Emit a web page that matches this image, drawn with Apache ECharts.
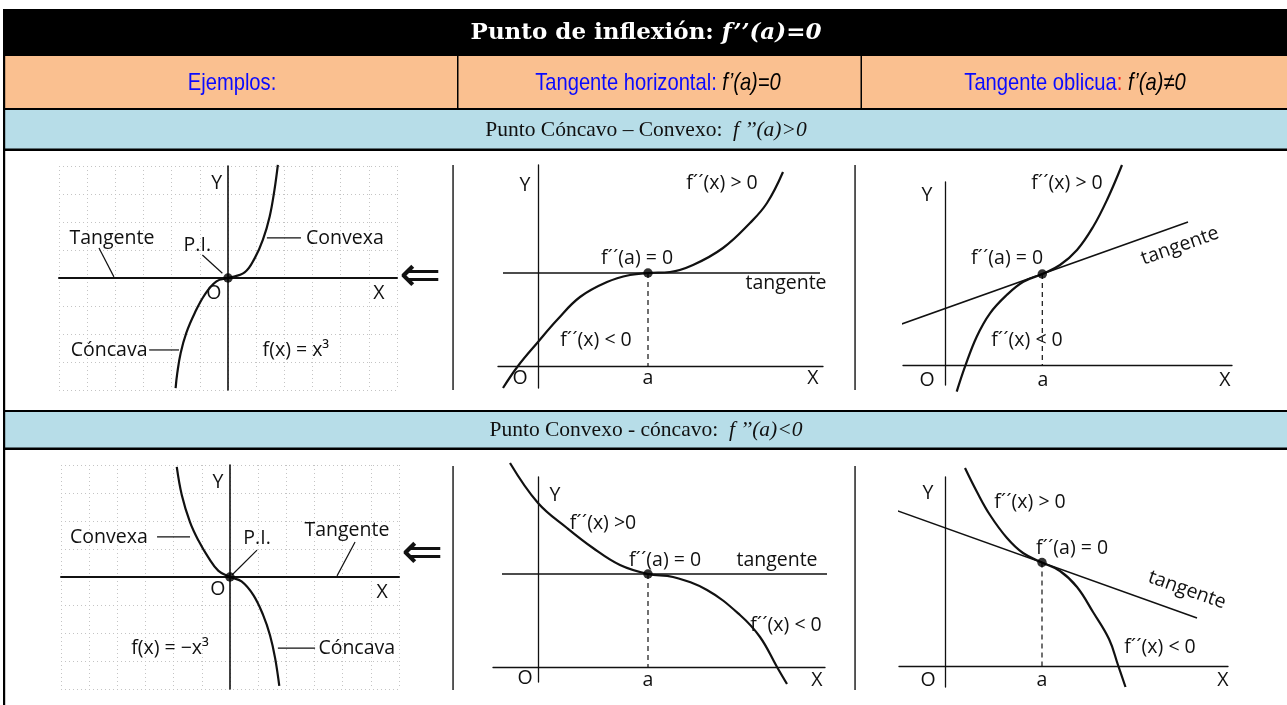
<!DOCTYPE html>
<html><head><meta charset="utf-8">
<script src="https://cdn.jsdelivr.net/npm/echarts@6/dist/echarts.min.js"></script>
<style>html,body{margin:0;padding:0;background:#fff}#c{width:1287px;height:705px}</style>
</head><body><div id="c"></div>
<script>
// ---------------- data ----------------
const titleMain = 'Punto de inflexión: ';
const titleFormula = 'f’’(a)=0';
const headEjemplos = 'Ejemplos:';
const headHorizontal = 'Tangente horizontal: ';
const headHorizontalF = 'f’(a)=0';
const headOblicua = 'Tangente oblicua';
const headOblicuaF = 'f’(a)≠0';
const row1Text = 'Punto Cóncavo – Convexo:  ';
const row1Formula = 'f ’’(a)>0';
const row2Text = 'Punto Convexo - cóncavo:  ';
const row2Formula = 'f ’’(a)<0';

// Panel A : f(x) = x^3  (grid-square units)
const curveA = [[-1.86,-3.93],[-1.8,-3.39],[-1.68,-2.68],[-1.48,-1.96],[-1.18,-1.25],[-0.83,-0.6],[-0.41,-0.12],[0,0],[0.59,0.2],[0.95,0.71],[1.24,1.37],[1.48,2.2],[1.65,3.15],[1.77,4.04]];
const pointA = [0,0];
const leadersA = [[[1.38,1.43],[2.59,1.43]],[[-4.58,1.07],[-4.05,0.04]],[[-0.91,0.82],[-0.2,0.17]],[[-2.8,-2.57],[-1.74,-2.57]]];
const labelsA = [['Y',-0.4,3.38],['O',-0.5,-0.55],['X',5.36,-0.54],['Tangente',-4.12,1.43],['P.I.',-1.09,1.18],['Convexa',4.15,1.43],['Cóncava',-4.22,-2.57],['f(x) = x³',2.41,-2.57]];

// Panel B : tangente horizontal, cóncavo-convexo
const curveB = [[-3.5,-2.2],[-2.0,0],[0,2.4],[1.9,4.6],[4.2,6.9],[6.9,8.4],[9.2,9.1],[11,9.3],[13.2,9.4],[15.5,10.1],[18.5,11.8],[21.2,14.3],[22.9,16.3],[24.5,19.4]];
const tangentB = [[-3.5,9.3],[28.2,9.3]];
const pointB = [11,9.3];
const labelsB = [['Y',-1.3,18.1],['O',-1.8,-1.2],['a',11,-1.2],['X',27.5,-1.2],['f´´(x) > 0',18.4,18.3],['f´´(a) = 0',9.9,10.8],['tangente',24.8,8.3],['f´´(x) < 0',5.8,2.6]];

// Panel C : tangente oblicua, cóncavo-convexo
const curveC = [[1.17,-2.67],[2.0,-0.17],[3.17,2.83],[4.5,5.17],[6.17,7.0],[7.83,8.33],[9.73,9.1],[11.5,10.0],[13.2,11.5],[14.8,13.8],[16.2,16.5],[17.7,20]];
const tangentC = [[-4.9,3.9],[24.3,14.3]];
const pointC = [9.73,9.1];
const labelsC = [['Y',-1.8,17],['O',-1.8,-1.5],['a',9.8,-1.5],['X',28,-1.5],['f´´(x) > 0',12.2,18.2],['f´´(a) = 0',6.2,10.7],['tangente',23.5,11.9,0.34],['f´´(x) < 0',8.2,2.5]];

// Panel D : f(x) = -x^3
const curveD = [[-1.89,3.93],[-1.71,2.92],[-1.42,1.96],[-1.12,1.3],[-0.77,0.7],[-0.41,0.22],[0,0],[0.41,-0.16],[0.83,-0.65],[1.18,-1.37],[1.42,-2.08],[1.6,-2.89],[1.75,-3.89]];
const pointD = [0,0];
const leadersD = [[[-2.59,1.43],[-1.42,1.43]],[[0.96,0.96],[0.07,0.07]],[[4.44,1.25],[3.8,0.04]],[[1.7,-2.54],[3.02,-2.54]]];
const labelsD = [['Y',-0.43,3.39],['O',-0.43,-0.46],['X',5.4,-0.54],['Convexa',-4.3,1.43],['P.I.',0.96,1.39],['Tangente',4.15,1.68],['f(x) = −x³',-2.13,-2.54],['Cóncava',4.5,-2.54]];

// Panel E : tangente horizontal, convexo-cóncavo
const curveE = [[-2.8,20.4],[0,16.4],[2.9,13.9],[5.5,11.9],[8.2,10.2],[11,9.3],[13.5,9.0],[16.9,7.7],[20.2,5.2],[22.2,3.0],[23.9,0],[24.9,-1.7]];
const tangentE = [[-3.6,9.3],[28.9,9.3]];
const pointE = [11,9.3];
const labelsE = [['Y',1.7,17.2],['O',-1.3,-1.1],['a',11,-1.3],['X',27.9,-1.3],['f´´(x) >0',6.5,14.4],['f´´(a) = 0',12.7,10.7],['tangente',23.9,10.7],['f´´(x) < 0',24.8,4.2]];

// Panel F : tangente oblicua, convexo-cóncavo
const curveF = [[2.0,19.8],[3.2,17.4],[4.5,15.1],[6.2,12.8],[7.8,11.3],[9.7,10.35],[11.5,9.5],[13.2,7.9],[14.8,5.4],[16.4,2.7],[17.3,0.1],[18.05,-2.1]];
const tangentF = [[-5,15.6],[25.2,4.8]];
const pointF = [9.7,10.35];
const labelsF = [['Y',-1.7,17.3],['O',-1.7,-1.4],['a',9.7,-1.4],['X',27.8,-1.4],['f´´(x) > 0',8.5,16.4],['f´´(a) = 0',12.7,11.8],['tangente',24.2,7.6,-0.34],['f´´(x) < 0',21.5,1.9]];

// ---------------- layout ----------------
const panels = [
  {grid:{left:59,top:166,width:338,height:224}, x:[-6,6], y:[-4,4], squares:true, curve:curveA, point:pointA, leaders:leadersA, labels:labelsA, arrow:[6.82,0]},
  {grid:{left:498,top:165,width:325,height:223}, x:[-4,28.5], y:[-2.2,20.1], curve:curveB, tangent:tangentB, point:pointB, labels:labelsB},
  {grid:{left:903,top:182,width:329,height:203}, x:[-4.2,28.7], y:[-2.0,18.3], curve:curveC, tangent:tangentC, point:pointC, labels:labelsC},
  {grid:{left:61,top:465,width:338,height:224}, x:[-6,6], y:[-4,4], squares:true, curve:curveD, point:pointD, leaders:leadersD, labels:labelsD, arrow:[6.82,0.79]},
  {grid:{left:493,top:477,width:332,height:205}, x:[-4.5,28.7], y:[-1.5,19.0], curve:curveE, tangent:tangentE, point:pointE, labels:labelsE},
  {grid:{left:899,top:477,width:329,height:210}, x:[-4.6,28.3], y:[-2.1,18.9], curve:curveF, tangent:tangentF, point:pointF, labels:labelsF}
];

const grids = [], xAxes = [], yAxes = [], series = [];
panels.forEach((p, i) => {
  grids.push(Object.assign({containLabel:false}, p.grid));
  const sq = !!p.squares;
  const split = {show:sq, lineStyle:{color:'#c4c4c4', type:[1,3], width:1}};
  xAxes.push({type:'value', gridIndex:i, min:p.x[0], max:p.x[1], interval: sq ? 1 : undefined,
    axisLine:{show:true, onZero:true, lineStyle:{color:'#111', width: sq ? 2 : 1.3}},
    axisTick:{show:false}, axisLabel:{show:false}, splitLine:split});
  yAxes.push({type:'value', gridIndex:i, min:p.y[0], max:p.y[1], interval: sq ? 1 : undefined,
    axisLine:{show:true, onZero:true, lineStyle:{color:'#111', width: sq ? 1.6 : 1.3}},
    axisTick:{show:false}, axisLabel:{show:false}, splitLine:split});
  series.push({type:'line', xAxisIndex:i, yAxisIndex:i, data:p.curve, smooth:0.4,
    symbol:'none', clip:false, silent:true, z:4, lineStyle:{color:'#111', width:2.2}});
  if (p.tangent) {
    series.push({type:'line', xAxisIndex:i, yAxisIndex:i, data:p.tangent, symbol:'none', clip:false, silent:true, z:3,
      lineStyle:{color:'#111', width:1.5}});
    series.push({type:'line', xAxisIndex:i, yAxisIndex:i, data:[p.point,[p.point[0],0]], symbol:'none', clip:false, silent:true, z:3,
      lineStyle:{color:'#111', width:1.2, type:[5,4]}});
  }
  (p.leaders || []).forEach(seg => {
    series.push({type:'line', xAxisIndex:i, yAxisIndex:i, data:seg, symbol:'none', clip:false, silent:true, z:3,
      lineStyle:{color:'#111', width:1.2}});
  });
  series.push({type:'scatter', xAxisIndex:i, yAxisIndex:i, data:[p.point], symbolSize:9.5, silent:true, z:5,
    itemStyle:{color:'#000'}});
});

const chart = echarts.init(document.getElementById('c'), null, {renderer:'canvas'});
chart.setOption({animation:false, backgroundColor:'#fff', grid:grids, xAxis:xAxes, yAxis:yAxes, series:series});

// ---------------- table frame & texts ----------------
const W = 1287;
const g = [];
function rect(x, y, w, h, fill) { g.push({type:'rect', silent:true, z:1, shape:{x:x, y:y, width:w, height:h}, style:{fill:fill}}); }
rect(4, 9, W, 47, '#000000');
rect(4, 56, W, 53, '#FAC090');
rect(4, 109, W, 41, '#B7DDE8');
rect(4, 411, W, 38, '#B7DDE8');
rect(4, 108, W, 2, '#000');
rect(4, 148.5, W, 2.5, '#000');
rect(4, 410, W, 2, '#000');
rect(4, 447.5, W, 2.5, '#000');
rect(3, 9, 2.2, 705, '#000');
rect(457, 56, 1.5, 53, '#000');
rect(860.5, 56, 1.5, 53, '#000');
// borders of the scanned pictures
[[453,165,390],[855,165,390],[453,466,690],[855,466,690]].forEach(v => rect(v[0]-0.7, v[1], 1.5, v[2]-v[1], '#222'));

function text(x, y, style, extra) {
  g.push(Object.assign({type:'text', silent:true, z:10, x:x, y:y,
    style:Object.assign({align:'center', verticalAlign:'middle', textAlign:'center', textVerticalAlign:'middle'}, style)}, extra || {}));
}
text(646, 33, {text:'{a|' + titleMain + '}{b|' + titleFormula + '}', rich:{
  a:{fill:'#fff', fontFamily:'DejaVu Serif', fontWeight:'bold', fontSize:23},
  b:{fill:'#fff', fontFamily:'DejaVu Serif', fontWeight:'bold', fontStyle:'italic', fontSize:23}}});
const narrow = {scaleX:0.84};
const headRich = {
  b:{fill:'#0a0aff', fontFamily:'Liberation Sans', fontSize:24},
  r:{fill:'#ff1a1a', fontFamily:'Liberation Sans', fontSize:24},
  k:{fill:'#000', fontFamily:'Liberation Sans', fontStyle:'italic', fontSize:24}};
text(232, 83, {text:'{b|' + headEjemplos + '}', rich:headRich}, narrow);
text(658, 83, {text:'{b|' + headHorizontal + '}{k|' + headHorizontalF + '}', rich:headRich}, narrow);
text(1075, 83, {text:'{b|' + headOblicua + '}{r|: }{k|' + headOblicuaF + '}', rich:headRich}, narrow);
const rowRich = {
  a:{fill:'#111', fontFamily:'Liberation Serif', fontSize:21.5},
  b:{fill:'#111', fontFamily:'Liberation Serif', fontStyle:'italic', fontSize:21.5}};
text(646, 130, {text:'{a|' + row1Text + '}{b|' + row1Formula + '}', rich:rowRich});
text(646, 430, {text:'{a|' + row2Text + '}{b|' + row2Formula + '}', rich:rowRich});

panels.forEach((p, i) => {
  p.labels.forEach(l => {
    const pt = chart.convertToPixel({gridIndex:i}, [l[1], l[2]]);
    text(pt[0], pt[1], {text:l[0], fill:'#111', font:'19.5px "Open Sans"'}, {rotation: l[3] || 0});
  });
  if (p.arrow) {
    const pt = chart.convertToPixel({gridIndex:i}, p.arrow);
    text(pt[0], pt[1], {text:'⇐', fill:'#111', font:'50px "DejaVu Sans"'});
  }
});
chart.setOption({graphic:g});
</script></body></html>
